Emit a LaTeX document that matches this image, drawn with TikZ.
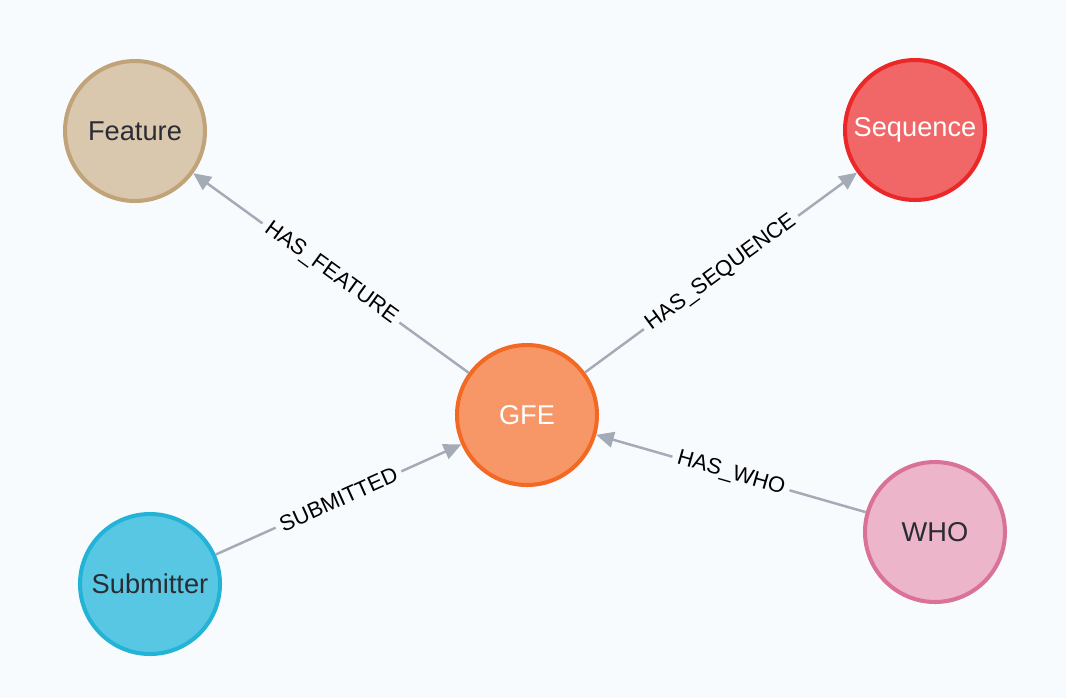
\documentclass[tikz,border=0pt]{standalone}
\usepackage{fontspec}
\setmainfont{Liberation Sans}
\usepackage{tikz}
\usetikzlibrary{arrows.meta}
\definecolor{bgcol}{HTML}{F8FBFE}
\definecolor{relcol}{HTML}{A5ABB6}
\definecolor{txtcol}{HTML}{2A2C34}
\definecolor{featfill}{HTML}{D9C8AE}
\definecolor{featline}{HTML}{C0A378}
\definecolor{seqfill}{HTML}{F16667}
\definecolor{seqline}{HTML}{EB2728}
\definecolor{gfefill}{HTML}{F79767}
\definecolor{gfeline}{HTML}{F36924}
\definecolor{subfill}{HTML}{57C7E3}
\definecolor{subline}{HTML}{23B3D7}
\definecolor{whofill}{HTML}{ECB5C9}
\definecolor{wholine}{HTML}{DA7298}

\begin{document}
\begin{tikzpicture}[x=0.02cm, y=-0.02cm,
    ent/.style={circle, minimum size=2.8cm, inner sep=0pt, line width=2.3pt,
      text=txtcol, font=\fontsize{15.5}{18}\selectfont},
    rel/.style={draw=relcol, line width=1.4pt, -{Triangle[length=10pt,width=9pt]}},
    lbl/.style={fill=bgcol, sloped, inner sep=3pt, text=black,
      font=\fontsize{12.5}{15}\selectfont}]
        \fill [bgcol] (0,0) rectangle (1066,698);
        \node [ent, fill=featfill, draw=featline] (feature) at (135,131) {Feature};
        \node [ent, fill=seqfill, draw=seqline, text=white] (sequence) at (915,130) {Sequence};
        \node [ent, fill=gfefill, draw=gfeline, text=white] (gfe) at (527,415) {GFE};
        \node [ent, fill=subfill, draw=subline] (submitter) at (150,584) {Submitter};
        \node [ent, fill=whofill, draw=wholine] (who) at (935,532) {WHO};
        \draw [rel] (gfe) -- node [lbl] {HAS\_FEATURE} (feature);
        \draw [rel] (gfe) -- node [lbl] {HAS\_SEQUENCE} (sequence);
        \draw [rel] (submitter) -- node [lbl] {SUBMITTED} (gfe);
        \draw [rel] (who) -- node [lbl] {HAS\_WHO} (gfe);
\end{tikzpicture}
\end{document}
